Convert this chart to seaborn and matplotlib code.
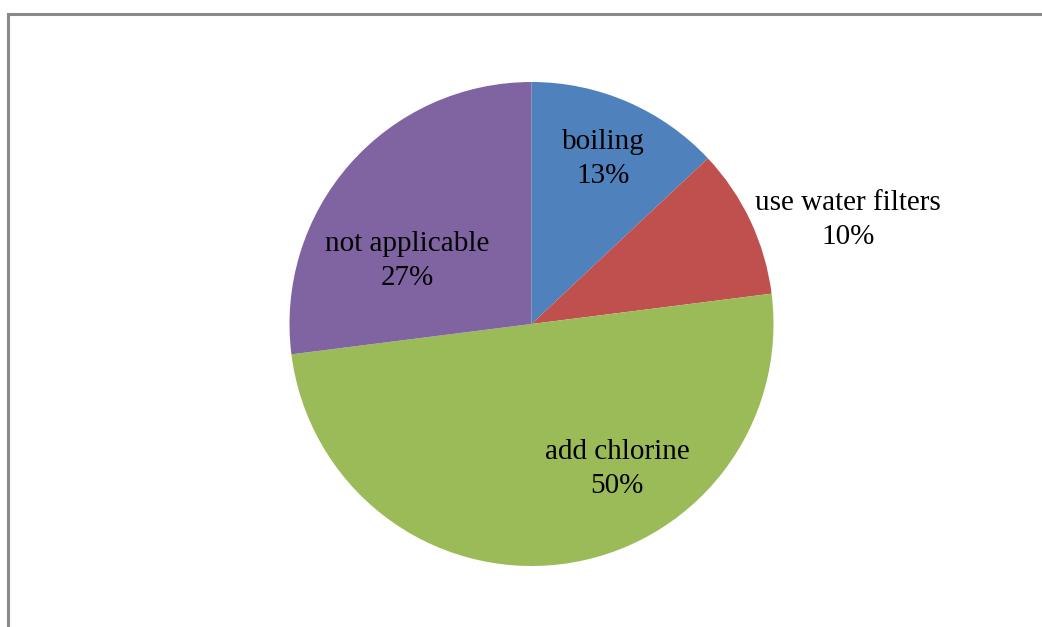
import matplotlib
matplotlib.use("Agg")
import matplotlib.pyplot as plt
from matplotlib.lines import Line2D
import seaborn as sns

sns.set_theme(style="white")
plt.rcParams['font.family'] = ['Liberation Serif', 'DejaVu Serif']

categories = ["boiling", "use water filters", "add chlorine", "not applicable"]
values = [13, 10, 50, 27]
colors = ["#4F81BD", "#C0504D", "#9BBB59", "#8064A2"]
# label anchor positions (pixel coords from top-left of the figure)
label_x = [603, 848, 617, 407]
label_y = [159, 220, 469, 261]

W, H = 1042, 627
fig = plt.figure(figsize=(W / 100, H / 100), dpi=100)
ax = fig.add_axes([0, 0, 1, 1])

cx, cy, r = 531.5, H - 324, 242
ax.pie(values, colors=colors, startangle=90, counterclock=False,
       center=(cx, cy), radius=r, frame=True,
       wedgeprops=dict(linewidth=0, edgecolor="none", antialiased=True))
ax.set_xlim(0, W)
ax.set_ylim(0, H)
ax.set_aspect("equal")
ax.axis("off")

for cat, v, lx, ly in zip(categories, values, label_x, label_y):
    ax.text(lx, H - ly, f"{cat}\n{v}%", ha="center", va="center",
            fontsize=21, color="black", linespacing=1.38)

# chart frame (left and top edges visible)
fig.add_artist(Line2D([7.5 / W, 7.5 / W], [0, 1 - 13.5 / H], transform=fig.transFigure,
                      color="#8a8a8a", linewidth=2.2, solid_capstyle="projecting"))
fig.add_artist(Line2D([7.5 / W, 1], [1 - 13.5 / H, 1 - 13.5 / H], transform=fig.transFigure,
                      color="#8a8a8a", linewidth=2.2, solid_capstyle="projecting"))

fig.savefig("out.png", dpi=100, facecolor="white")
